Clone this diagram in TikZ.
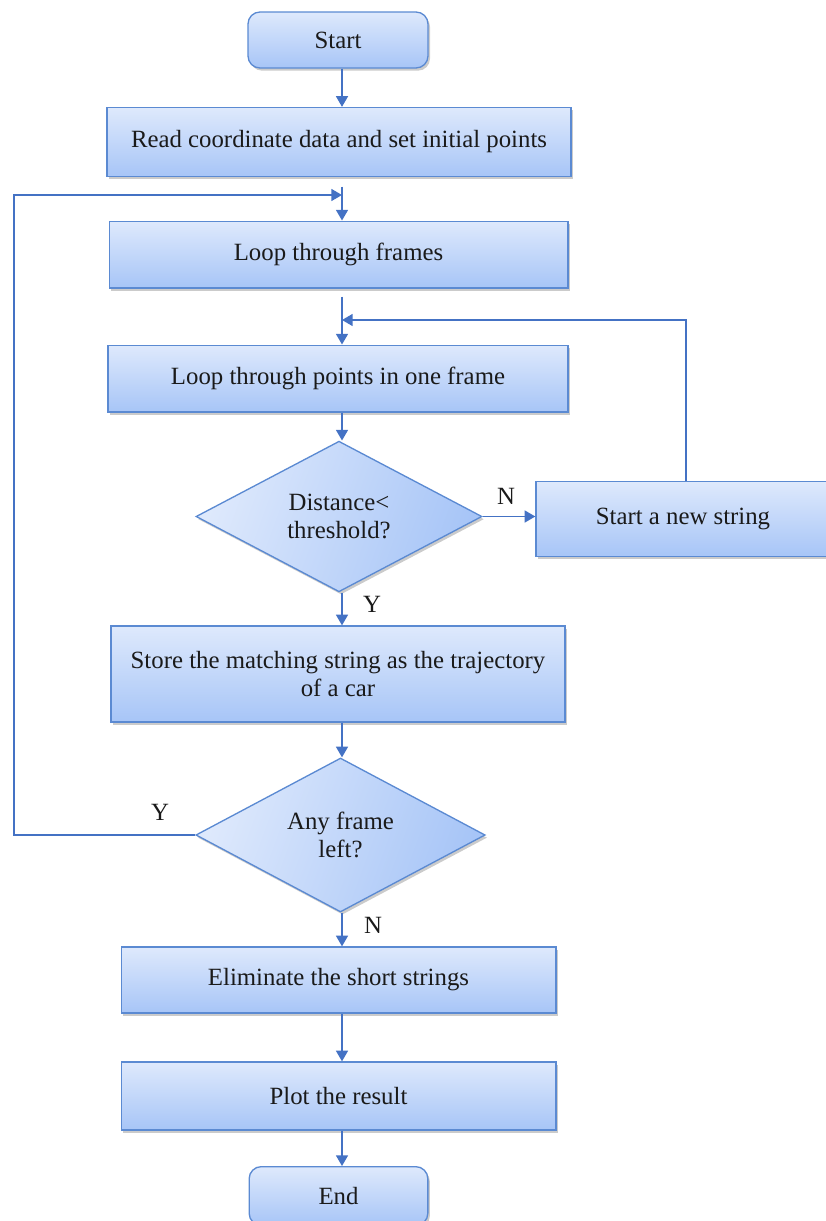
\documentclass[tikz,border=0pt]{standalone}
\usepackage{fontspec}
\setmainfont{Liberation Serif}
\usetikzlibrary{shapes.geometric,arrows.meta,shadows}

\definecolor{boxtop}{HTML}{DEE9FC}
\definecolor{boxbot}{HTML}{A7C5F7}
\definecolor{boxedge}{HTML}{5B8AD2}
\definecolor{flowline}{HTML}{4472C4}
\definecolor{ink}{HTML}{1A1A1A}

\tikzset{
  base/.style={draw=boxedge, line width=1pt, text=ink,
    font=\fontsize{18.6}{21}\selectfont, align=center, inner sep=0pt,
    drop shadow={shadow xshift=1.5pt, shadow yshift=-2pt, fill=black!45, opacity=0.45}},
  procbox/.style={base, rectangle, top color=boxtop, bottom color=boxbot},
  termbox/.style={procbox, rounded corners=9pt},
  decision/.style={base, diamond, aspect=1.9, left color=boxtop, right color=boxbot, shading angle=70},
  flow/.style={draw=flowline, line width=1.1pt, -{Triangle[length=8pt,width=9pt]}},
  tag/.style={text=ink, font=\fontsize{18.6}{21}\selectfont, inner sep=0pt}
}

\begin{document}
\begin{tikzpicture}[x=0.75pt, y=-0.75pt]
  \useasboundingbox (0,0) rectangle (825,1221);

  % process steps
  \node[termbox, minimum width=135pt, minimum height=42pt] (start) at (338,40) {Start};
  \node[procbox, minimum width=348pt, minimum height=51.75pt] (read) at (339,142) {Read coordinate data and set initial points};
  \node[procbox, minimum width=344pt, minimum height=50pt] (frames) at (338.5,254.5) {Loop through frames};
  \node[procbox, minimum width=345pt, minimum height=50pt] (points) at (338,378.5) {Loop through points in one frame};
  \node[decision, minimum width=214.5pt, minimum height=113pt] (dist) at (339,516.5) {Distance<\\threshold?};
  \node[procbox, minimum width=220.5pt, minimum height=56pt] (newstr) at (683,519) {Start a new string};
  \node[procbox, minimum width=340.5pt, minimum height=72pt] (store) at (338,674) {Store the matching string as the trajectory\\of a car};
  \node[decision, minimum width=217pt, minimum height=115.5pt] (anyf) at (340.5,835) {Any frame\\left?};
  \node[procbox, minimum width=326pt, minimum height=49.5pt] (elim) at (338.5,980) {Eliminate the short strings};
  \node[procbox, minimum width=326pt, minimum height=51pt] (plot) at (338.5,1096) {Plot the result};
  \node[termbox, minimum width=134pt, minimum height=44pt] (end) at (338.5,1196) {End};

  % routing points
  \coordinate (col) at (342,0);
  \coordinate (leftx) at (14,0);
  \coordinate (rightx) at (686,0);
  \coordinate (jtop) at (342,195);
  \coordinate (jmid) at (342,320);

  % main column
  \draw[flow] (start.south -| col) -- (read.north -| col);
  \draw[flow, shorten <=7pt] (read.south -| col) -- (frames.north -| col);
  \draw[flow, shorten <=6pt] (frames.south -| col) -- (points.north -| col);
  \draw[flow] (points.south -| col) -- (dist.north -| col);
  \draw[flow] (dist.south -| col) -- (store.north -| col);
  \draw[flow] (store.south -| col) -- (anyf.north -| col);
  \draw[flow] (anyf.south -| col) -- (elim.north -| col);
  \draw[flow] (elim.south -| col) -- (plot.north -| col);
  \draw[flow] (plot.south -| col) -- (end.north -| col);

  % branches and loops
  \draw[flow] (dist.east) -- (newstr.west |- dist.east);
  \draw[flow] (newstr.north -| rightx) |- (jmid);
  \draw[flow] (anyf.west) -- (anyf.west -| leftx) |- (jtop);

  % branch labels
  \node[tag] (ndist) at (506,496) {N};
  \node[tag] (ydist) at (372,604) {Y};
  \node[tag] (yany) at (160,812) {Y};
  \node[tag] (nany) at (373,925) {N};
\end{tikzpicture}
\end{document}
